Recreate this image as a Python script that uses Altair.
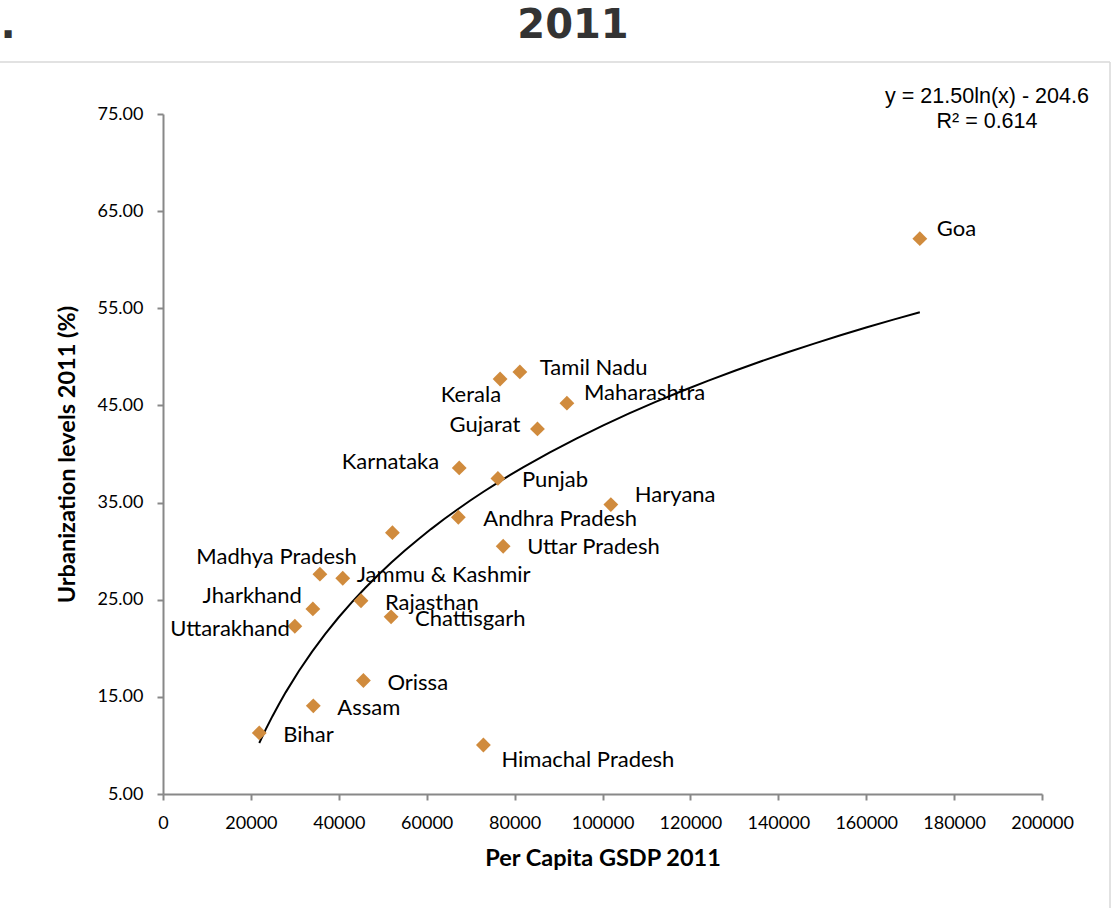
import altair as alt
import pandas as pd

# ---- data ----
states = ["Goa", "Tamil Nadu", "Kerala", "Maharashtra", "Gujarat", "Karnataka",
          "Punjab", "Haryana", "Andhra Pradesh", "Uttar Pradesh", "West Bengal",
          "Madhya Pradesh", "Jammu & Kashmir", "Rajasthan", "Jharkhand",
          "Chattisgarh", "Uttarakhand", "Orissa", "Assam", "Bihar",
          "Himachal Pradesh"]
gsdp = [172200, 81200, 76700, 91900, 85200, 67400,
        76200, 101900, 67200, 77400, 52200,
        35700, 40900, 45050, 34100,
        51900, 30000, 45600, 34200, 21900,
        72900]
urban = [62.17, 48.45, 47.72, 45.23, 42.58, 38.57,
         37.49, 34.79, 33.49, 30.50, 31.90,
         27.63, 27.21, 24.89, 24.05,
         23.24, 22.27, 16.68, 14.08, 11.29,
         10.04]
shown_labels = [s for s in states if s != "West Bengal"]

x_ticks = [0, 20000, 40000, 60000, 80000, 100000, 120000, 140000, 160000, 180000, 200000]
y_ticks = [5, 15, 25, 35, 45, 55, 65, 75]

title_text = "2011"
equation_lines = ["y = 21.50ln(x) - 204.6", "R² = 0.614"]

# ---- label placement (style, kept apart from data) ----
label_style = {
    "Goa": ("left", 17, -10),
    "Tamil Nadu": ("left", 20, -4),
    "Kerala": ("right", 1, 16),
    "Maharashtra": ("left", 17, -10),
    "Gujarat": ("right", -17, -4),
    "Karnataka": ("right", -20, -6),
    "Punjab": ("left", 24, 2),
    "Haryana": ("left", 24, -10),
    "Andhra Pradesh": ("left", 25, 2),
    "Uttar Pradesh": ("left", 24, 1),
    "Madhya Pradesh": ("right", 37, -17),
    "Jammu & Kashmir": ("left", 14, -3),
    "Rajasthan": ("left", 24, 2),
    "Jharkhand": ("right", -11, -13),
    "Chattisgarh": ("left", 24, 2),
    "Uttarakhand": ("right", -5, 3),
    "Orissa": ("left", 24, 2),
    "Assam": ("left", 24, 2),
    "Bihar": ("left", 24, 2),
    "Himachal Pradesh": ("left", 18, 15),
}

df = pd.DataFrame({"state": states, "gsdp": gsdp, "urban": urban})

W, H = 879, 680
PAD_L, PAD_T = 163, 114

LABEL_FONT = "Lato"
POINT_COLOR = "#D08B3D"

xenc = alt.X("gsdp:Q",
             scale=alt.Scale(domain=[0, 200000], nice=False, zero=False),
             axis=alt.Axis(values=x_ticks, format="d", title="Per Capita GSDP 2011",
                           titleY=64, titleBaseline="middle",
                           labelOverlap=False, labelFlush=False))
yenc = alt.Y("urban:Q",
             scale=alt.Scale(domain=[5, 75], nice=False, zero=False),
             axis=alt.Axis(values=y_ticks, format=".2f",
                           title="Urbanization levels 2011 (%)",
                           titleX=-96, titleY=H / 2, titleAngle=270,
                           titleBaseline="middle", titleAlign="center",
                           labelOverlap=False, labelFlush=False))

base = alt.Chart(df)

points = base.mark_point(shape="diamond", filled=True, size=220,
                         color=POINT_COLOR, opacity=1).encode(x=xenc, y=yenc)

trend = base.transform_regression("gsdp", "urban", method="log").mark_line(
    color="black", strokeWidth=2).encode(x="gsdp:Q", y="urban:Q")

label_layers = []
for name in shown_labels:
    align, dx, dy = label_style[name]
    label_layers.append(
        base.transform_filter(alt.datum.state == name).mark_text(
            align=align, baseline="middle", dx=dx, dy=dy,
            font=LABEL_FONT, fontSize=22, color="black"
        ).encode(x="gsdp:Q", y="urban:Q", text="state:N")
    )

one = pd.DataFrame({"k": [0]})

border_top = alt.Chart(one).mark_rule(color="#d9d9d9", strokeWidth=1.5).encode(
    x=alt.value(-PAD_L), x2=alt.value(1110 - PAD_L), y=alt.value(62 - PAD_T))
border_right = alt.Chart(one).mark_rule(color="#d9d9d9", strokeWidth=1.5).encode(
    x=alt.value(1110 - PAD_L), y=alt.value(62 - PAD_T), y2=alt.value(908 - PAD_T))

title_mark = alt.Chart(one).mark_text(
    text=title_text, font="DejaVu Sans", fontWeight="bold", fontSize=40,
    color="#333333", align="center", baseline="alphabetic"
).encode(x=alt.value(573 - PAD_L), y=alt.value(38 - PAD_T))
dot_mark = alt.Chart(one).mark_text(
    text=".", font="DejaVu Sans", fontWeight="bold", fontSize=40,
    color="#333333", align="center", baseline="alphabetic"
).encode(x=alt.value(8 - PAD_L), y=alt.value(38 - PAD_T))

eq1 = alt.Chart(one).mark_text(
    text=equation_lines[0], font="Liberation Sans", fontSize=21.5, color="black",
    align="center", baseline="middle"
).encode(x=alt.value(987 - PAD_L), y=alt.value(97 - PAD_T))
eq2 = alt.Chart(one).mark_text(
    text=equation_lines[1], font="Liberation Sans", fontSize=21.5, color="black",
    align="center", baseline="middle"
).encode(x=alt.value(987 - PAD_L), y=alt.value(122 - PAD_T))

chart = alt.layer(
    border_top, border_right, trend, points, *label_layers,
    title_mark, dot_mark, eq1, eq2
).properties(
    width=W, height=H,
    autosize=alt.AutoSizeParams(type="none"),
    padding={"left": PAD_L, "top": PAD_T, "right": 1114 - PAD_L - W, "bottom": 908 - PAD_T - H},
    background="white",
).configure_view(stroke=None).configure_axis(
    grid=False,
    domainColor="#888888", domainWidth=2,
    tickColor="#888888", tickWidth=2, tickSize=6,
    labelFont=LABEL_FONT, labelFontSize=18, labelColor="black", labelPadding=14,
    titleFont=LABEL_FONT, titleFontSize=23.5, titleFontWeight="bold", titleColor="black",
)

chart.save("out.html", embed_options={"renderer": "svg", "actions": False})
